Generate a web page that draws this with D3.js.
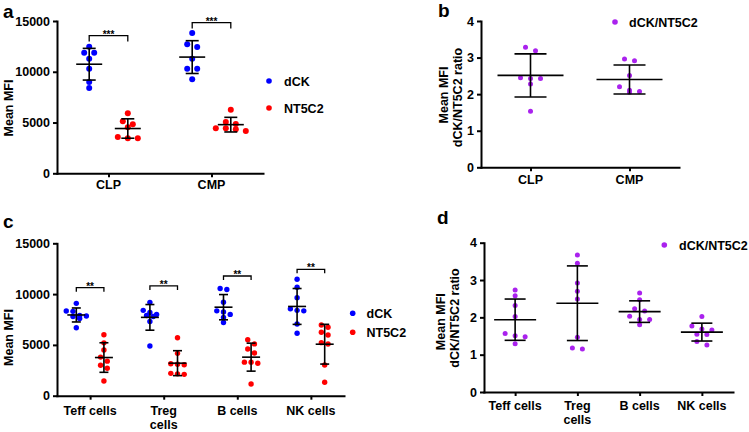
<!DOCTYPE html>
<html><head><meta charset="utf-8">
<script src="https://cdn.jsdelivr.net/npm/d3@7"></script>
<style>
body{margin:0;background:#fff}
text{font-family:"Liberation Sans",Arial,sans-serif;font-weight:bold;fill:#000}
</style>
</head><body>
<svg id="chart" width="749" height="432"></svg>
<script>
// ---------------- DATA ----------------
const seriesNames = ["dCK", "NT5C2"];
const ratioName = "dCK/NT5C2";

// Panel a
const aCategories = ["CLP", "CMP"];
const aDCK = [
  [12470, 11880, 11880, 11290, 10300, 8990, 8400],
  [13820, 12710, 12440, 11290, 10300, 10300, 9260]
];
const aNT5C2 = [
  [5910, 5120, 4830, 4530, 3580, 3450, 3450],
  [6270, 5050, 4860, 4430, 4430, 4330, 4170]
];
const aTicks = [0, 5000, 10000, 15000];
const aSigLabels = ["***", "***"];
const aSigLevels = [13560, 14840];

// Panel b
const bCategories = ["CLP", "CMP"];
const bRatio = [
  [3.28, 3.19, 2.45, 2.43, 2.43, 2.28, 1.53],
  [2.96, 2.91, 2.51, 2.20, 2.11, 2.07, 2.05]
];
const ratioTicks = [0, 1, 2, 3, 4];

// Panel c
const cCategories = ["Teff cells", "Treg cells", "B cells", "NK cells"];
const cTickLabels = ["Teff cells", "Treg\ncells", "B cells", "NK cells"];
const cDCK = [
  [9090, 8340, 8300, 7900, 7850, 7800, 7600, 6690],
  [9190, 8400, 8200, 8000, 7900, 7800, 7300, 4890],
  [10550, 10450, 9200, 8350, 8250, 8000, 7700, 7200],
  [11460, 10670, 9650, 8550, 8400, 8350, 7060, 6140]
];
const cNT5C2 = [
  [6000, 5200, 4500, 3800, 3400, 3000, 2700, 1450],
  [5700, 4170, 3150, 3100, 3050, 2200, 2150, 2100],
  [5500, 5100, 4600, 4200, 3300, 3300, 3200, 1150],
  [6960, 6730, 6240, 5970, 5220, 5090, 3020, 1320]
];
const cTicks = [0, 5000, 10000, 15000];
const cSigLabels = ["**", "**", "**", "**"];
const cSigLevels = [10630, 10800, 11780, 12440];

// Panel d
const dCategories = cCategories;
const dTickLabels = cTickLabels;
const dRatio = [
  [2.73, 2.58, 2.32, 2.02, 1.57, 1.51, 1.48, 1.29],
  [3.67, 3.45, 2.92, 2.70, 2.49, 1.47, 1.18, 1.15],
  [2.65, 2.47, 2.23, 2.17, 2.03, 1.94, 1.94, 1.80],
  [2.02, 1.77, 1.69, 1.66, 1.55, 1.54, 1.35, 1.26]
];

// ---------------- STYLE ----------------
const BLUE = "#0000ff", RED = "#ff0000", PURPLE = "#aa22ee";
const svg = d3.select("#chart");

function swarmOffsets(values, y, spacing, thresh) {
  const idx = values.map((v, i) => i).sort((a, b) => values[b] - values[a]);
  const rows = [];
  let cur = null;
  idx.forEach(i => {
    const py = y(values[i]);
    if (cur && Math.abs(py - cur.y0) < thresh) cur.items.push(i);
    else { cur = { y0: py, items: [i] }; rows.push(cur); }
  });
  const off = new Array(values.length).fill(0);
  rows.forEach(r => {
    const n = r.items.length;
    r.items.forEach((i, k) => off[i] = (k - (n - 1) / 2) * spacing);
  });
  return off;
}

function drawPanel(cfg) {
  const g = svg.append("g");
  const y = d3.scaleLinear().domain([0, cfg.yMax]).range([cfg.y0, cfg.y1]);
  const x = d3.scalePoint().domain(cfg.categories).range([cfg.x0, cfg.x1]).padding(cfg.pad);

  // y axis
  const ya = g.append("g").attr("transform", `translate(${cfg.x0},0)`)
    .call(d3.axisLeft(y).tickValues(cfg.ticks).tickSize(4).tickPadding(3).tickSizeOuter(0).tickFormat(d3.format("d")));
  ya.select(".domain").attr("stroke-width", 2).attr("stroke-linecap", "square");
  ya.selectAll(".tick line").attr("stroke-width", 2);
  ya.selectAll(".tick text").attr("font-size", 12.5).attr("font-family", null);

  // x axis
  const xa = g.append("g").attr("transform", `translate(0,${cfg.y0})`)
    .call(d3.axisBottom(x).tickSize(4).tickSizeOuter(0).tickFormat(""));
  xa.select(".domain").attr("stroke-width", 2).attr("stroke-linecap", "square");
  xa.selectAll(".tick line").attr("stroke-width", 2);
  cfg.categories.forEach((c, i) => {
    const lines = cfg.tickLabels[i].split("\n");
    const t = g.append("text").attr("x", x(c)).attr("y", cfg.y0 + cfg.labelDy)
      .attr("text-anchor", "middle").attr("font-size", 12.5);
    lines.forEach((ln, k) => t.append("tspan").attr("x", x(c)).attr("dy", k === 0 ? 0 : 13.8).text(ln));
  });

  // series
  cfg.series.forEach(s => {
    cfg.categories.forEach((c, i) => {
      const vals = s.values[i];
      const cx = x(c) + s.offset;
      const off = swarmOffsets(vals, y, cfg.spacing, cfg.thresh);
      g.append("g").selectAll("circle").data(vals).join("circle")
        .attr("cx", (d, k) => cx + off[k]).attr("cy", d => y(d))
        .attr("r", cfg.r).attr("fill", s.color);
      const m = d3.mean(vals), sd = d3.deviation(vals);
      const eb = g.append("g").attr("stroke", "#000").attr("stroke-width", 1.6).attr("fill", "none");
      eb.append("line").attr("x1", cx - cfg.meanW).attr("x2", cx + cfg.meanW).attr("y1", y(m)).attr("y2", y(m));
      eb.append("line").attr("x1", cx).attr("x2", cx).attr("y1", y(m - sd)).attr("y2", y(m + sd));
      [m - sd, m + sd].forEach(v => eb.append("line").attr("x1", cx - cfg.capW).attr("x2", cx + cfg.capW).attr("y1", y(v)).attr("y2", y(v)));
    });
  });

  // significance brackets
  if (cfg.sigLabels) {
    cfg.categories.forEach((c, i) => {
      const xl = x(c) + cfg.series[0].offset, xr = x(c) + cfg.series[1].offset;
      const yb = y(cfg.sigLevels[i]);
      g.append("path").attr("d", `M${xl},${yb + cfg.legH}V${yb}H${xr}V${yb + cfg.legH}`)
        .attr("fill", "none").attr("stroke", "#000").attr("stroke-width", 1.3);
      g.append("text").attr("x", (xl + xr) / 2).attr("y", yb + 2).attr("text-anchor", "middle")
        .attr("font-size", 10).text(cfg.sigLabels[i]);
    });
  }

  // legend
  cfg.legend.forEach(l => {
    g.append("circle").attr("cx", l.x).attr("cy", l.y).attr("r", 2.8).attr("fill", l.color);
    g.append("text").attr("x", l.tx).attr("y", l.y + 5).attr("font-size", 12.5).text(l.text);
  });

  // y title
  cfg.titles.forEach(tt => {
    g.append("text").attr("transform", `translate(${tt.x},${tt.y}) rotate(-90)`)
      .attr("text-anchor", "middle").attr("font-size", 12.5).text(tt.text);
  });

  // panel letter
  g.append("text").attr("x", cfg.letter.x).attr("y", cfg.letter.y).attr("font-size", 19).text(cfg.letter.text);
}

drawPanel({
  categories: aCategories, tickLabels: aCategories, yMax: 15000, ticks: aTicks,
  x0: 57, x1: 263, y0: 173.3, y1: 21, pad: 0.5, labelDy: 15.4,
  r: 3, spacing: 10, thresh: 5.5, meanW: 13, capW: 6.5,
  series: [{ values: aDCK, color: BLUE, offset: -19.3 }, { values: aNT5C2, color: RED, offset: 19.3 }],
  sigLabels: aSigLabels, sigLevels: aSigLevels, legH: 6,
  legend: [{ x: 269, y: 81, tx: 284, color: BLUE, text: seriesNames[0] },
           { x: 269, y: 108, tx: 284, color: RED, text: seriesNames[1] }],
  titles: [{ x: 12.7, y: 108, text: "Mean MFI" }],
  letter: { x: 3, y: 18, text: "a" }
});

drawPanel({
  categories: bCategories, tickLabels: bCategories, yMax: 4, ticks: ratioTicks,
  x0: 481, x1: 679, y0: 167.3, y1: 21, pad: 0.5, labelDy: 17,
  r: 2.5, spacing: 10, thresh: 5, meanW: 33, capW: 16,
  series: [{ values: bRatio, color: PURPLE, offset: 0 }],
  legend: [{ x: 615, y: 22, tx: 629, color: PURPLE, text: ratioName }],
  titles: [{ x: 448, y: 95, text: "Mean MFI" }, { x: 462, y: 97.5, text: "dCK/NT5C2 ratio" }],
  letter: { x: 438, y: 17, text: "b" }
});

drawPanel({
  categories: cCategories, tickLabels: cTickLabels, yMax: 15000, ticks: cTicks,
  x0: 57, x1: 344, y0: 395.7, y1: 243.3, pad: 0.45, labelDy: 19.3,
  r: 2.7, spacing: 6.7, thresh: 5, meanW: 9, capW: 4.5,
  series: [{ values: cDCK, color: BLUE, offset: -13.8 }, { values: cNT5C2, color: RED, offset: 13.8 }],
  sigLabels: cSigLabels, sigLevels: cSigLevels, legH: 4,
  legend: [{ x: 352.7, y: 313.3, tx: 366.5, color: BLUE, text: seriesNames[0] },
           { x: 352.7, y: 332.3, tx: 366.5, color: RED, text: seriesNames[1] }],
  titles: [{ x: 13, y: 337.5, text: "Mean MFI" }],
  letter: { x: 3, y: 228, text: "c" }
});

drawPanel({
  categories: dCategories, tickLabels: dTickLabels, yMax: 4, ticks: ratioTicks,
  x0: 484, x1: 733, y0: 392, y1: 242.7, pad: 0.5, labelDy: 18,
  r: 2.5, spacing: 10, thresh: 5, meanW: 21, capW: 10.5,
  series: [{ values: dRatio, color: PURPLE, offset: 0 }],
  legend: [{ x: 664.3, y: 245, tx: 679, color: PURPLE, text: ratioName }],
  titles: [{ x: 445, y: 321.7, text: "Mean MFI" }, { x: 459, y: 318, text: "dCK/NT5C2 ratio" }],
  letter: { x: 437, y: 224, text: "d" }
});
</script>
</body></html>
